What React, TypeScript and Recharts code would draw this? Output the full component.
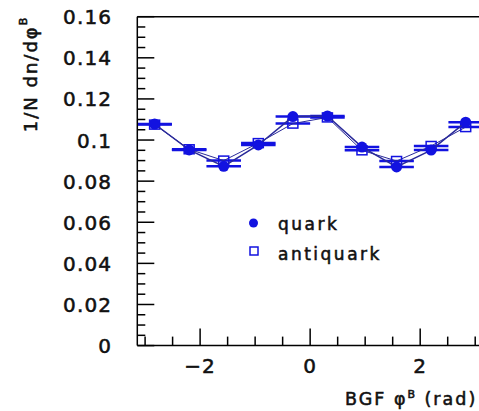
import React from "react";
import {
  ScatterChart,
  Scatter,
  XAxis,
  YAxis,
  ErrorBar,
  ReferenceLine,
  Legend,
  Label,
} from "recharts";

// Azimuthal angle bin centres (10 bins over [-pi, pi]) and half bin width
const phiCenters = [-2.827, -2.199, -1.571, -0.942, -0.314, 0.314, 0.942, 1.571, 2.199, 2.827];
const binHalfWidth = 0.314;

// Normalised distributions 1/N dn/dphi^B
const quarkValues = [0.1078, 0.0952, 0.0872, 0.0976, 0.1114, 0.1117, 0.0966, 0.0869, 0.0951, 0.1087];
const antiquarkValues = [0.1075, 0.0955, 0.09, 0.0985, 0.108, 0.111, 0.095, 0.0898, 0.0971, 0.1063];

// Axis ticks
const xTicks = [-3, -2.5, -2, -1.5, -1, -0.5, 0, 0.5, 1, 1.5, 2, 2.5, 3];
const xMajor = [-2, 0, 2];
const yTicks = Array.from({ length: 33 }, (_, i) => Number((i * 0.005).toFixed(3)));
const yMajorLabels = ["0", "0.02", "0.04", "0.06", "0.08", "0.1", "0.12", "0.14", "0.16"];

const quarkData = phiCenters.map((phi, i) => ({ phi, v: quarkValues[i], dx: binHalfWidth }));
const antiquarkData = phiCenters.map((phi, i) => ({ phi, v: antiquarkValues[i], dx: binHalfWidth }));

const BLUE = "#1212e0";
const FONT = "'DejaVu Sans', sans-serif";
// Slightly heavier than regular weight
const TEXT_STYLE = { fontFamily: FONT, fill: "#111", stroke: "#111", strokeWidth: 0.55 };

const XTick = (props: any) => {
  const { x, y, payload } = props;
  const v = payload.value as number;
  const major = xMajor.includes(v);
  const label = v < 0 ? `\u2212${Math.abs(v)}` : `${v}`;
  return (
    <g>
      <line x1={x} y1={y} x2={x} y2={y - (major ? 17 : 9)} stroke="#000" strokeWidth={1.5} />
      {major && (
        <text x={x} y={y + 27} textAnchor="middle" fontSize={20} letterSpacing={1} {...TEXT_STYLE}>
          {label}
        </text>
      )}
    </g>
  );
};

const YTick = (props: any) => {
  const { x, y, payload } = props;
  const v = payload.value as number;
  const idx = Math.round(v * 1000);
  const major = idx % 20 === 0;
  return (
    <g>
      <line x1={x} y1={y} x2={x + (major ? 17 : 8)} y2={y} stroke="#000" strokeWidth={1.5} />
      {major && (
        <text x={x - 25} y={y + 7.5} textAnchor="end" fontSize={20} letterSpacing={1.2} {...TEXT_STYLE}>
          {yMajorLabels[idx / 20]}
        </text>
      )}
    </g>
  );
};

const YTitle = () => (
  <text
    x={30}
    y={74}
    transform="rotate(-90, 30, 74)"
    textAnchor="middle"
    dominantBaseline="central"
    fontSize={18}
    letterSpacing={2}
    {...TEXT_STYLE}
  >
    1/N dn/dφ
    <tspan dy={-7} fontSize={11}>
      B
    </tspan>
  </text>
);

const XTitle = () => (
  <text x={345} y={405} fontSize={17.5} letterSpacing={2} {...TEXT_STYLE}>
    BGF φ
    <tspan dy={-7} fontSize={11}>
      B
    </tspan>
    <tspan dy={7}> (rad)</tspan>
  </text>
);

const QuarkMarker = (props: any) => <circle cx={props.cx} cy={props.cy} r={5.5} fill={BLUE} />;
const AntiquarkMarker = (props: any) => (
  <rect x={props.cx - 5} y={props.cy - 4.5} width={10} height={9} fill="none" stroke={BLUE} strokeWidth={1.5} />
);

const LegendBox = () => (
  <svg width={150} height={60} style={{ display: "block" }}>
    <circle cx={8.5} cy={11} r={4.5} fill={BLUE} />
    <text x={33} y={17.5} fontSize={17} letterSpacing={2.5} {...TEXT_STYLE}>
      quark
    </text>
    <rect x={5} y={35} width={8} height={8} fill="none" stroke={BLUE} strokeWidth={1.5} />
    <text x={33} y={48} fontSize={17} letterSpacing={2.5} {...TEXT_STYLE}>
      antiquark
    </text>
  </svg>
);

export default function App() {
  return (
    <div
      style={{
        position: "fixed",
        left: 0,
        top: 0,
        width: 479,
        height: 411,
        overflow: "hidden",
        background: "#fff",
      }}
    >
      <ScatterChart width={490} height={411} margin={{ top: 16.7, right: 7, bottom: 0, left: 0 }}>
        <XAxis
          type="number"
          dataKey="phi"
          domain={[-Math.PI, Math.PI]}
          allowDataOverflow
          ticks={xTicks}
          interval={0}
          tick={<XTick />}
          tickLine={false}
          tickSize={0}
          tickMargin={0}
          height={65.4}
          axisLine={{ stroke: "#000", strokeWidth: 1.5 }}
        >
          <Label content={<XTitle />} />
        </XAxis>
        <YAxis
          type="number"
          dataKey="v"
          domain={[0, 0.16]}
          allowDataOverflow
          ticks={yTicks}
          interval={0}
          tick={<YTick />}
          tickLine={false}
          tickSize={0}
          tickMargin={0}
          width={137.3}
          axisLine={{ stroke: "#000", strokeWidth: 1.5 }}
        >
          <Label content={<YTitle />} />
        </YAxis>
        <ReferenceLine y={0.16} stroke="#000" strokeWidth={1.5} />
        <ReferenceLine x={Math.PI} stroke="#000" strokeWidth={1.5} />
        <Legend
          layout="horizontal"
          verticalAlign="middle"
          content={<LegendBox />}
          wrapperStyle={{ left: 245, top: 212, width: 150, height: 60 }}
        />
        <Scatter
          name="antiquark"
          data={antiquarkData}
          shape={<AntiquarkMarker />}
          line={{ stroke: "#2a2a9a", strokeWidth: 1 }}
          lineType="joint"
          isAnimationActive={false}
        >
          <ErrorBar dataKey="dx" direction="x" width={0} stroke={BLUE} strokeWidth={2.5} />
        </Scatter>
        <Scatter
          name="quark"
          data={quarkData}
          shape={<QuarkMarker />}
          line={{ stroke: "#2a2a9a", strokeWidth: 1.5 }}
          lineType="joint"
          isAnimationActive={false}
        >
          <ErrorBar dataKey="dx" direction="x" width={0} stroke={BLUE} strokeWidth={2.5} />
        </Scatter>
      </ScatterChart>
    </div>
  );
}
